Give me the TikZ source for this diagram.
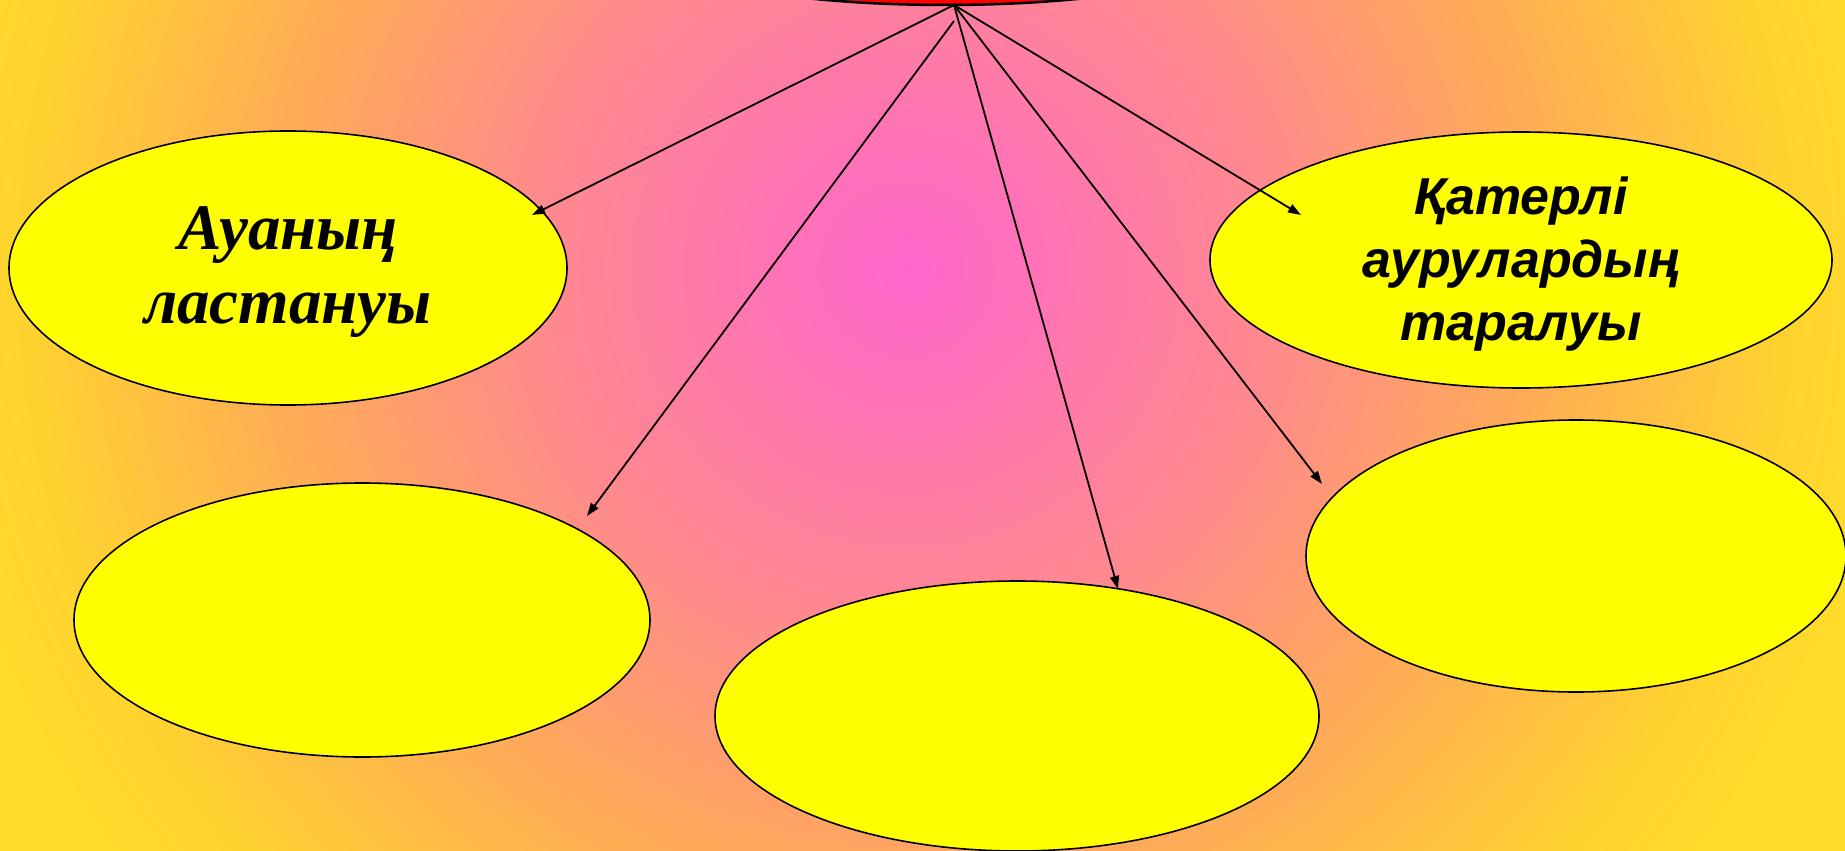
\documentclass[tikz,border=0pt]{standalone}
\usepackage{fontspec}
\newfontfamily\serifbi{Liberation Serif}[BoldItalicFont={* Bold Italic}]
\newfontfamily\sansbi{Liberation Sans}[BoldItalicFont={* Bold Italic}]
\usetikzlibrary{shapes.geometric,arrows.meta}
\definecolor{bgA}{HTML}{FF66CC}
\definecolor{bgB}{HTML}{FF8A8C}
\definecolor{bgC}{HTML}{FFAA58}
\definecolor{bgD}{HTML}{FFD42E}
\definecolor{bgE}{HTML}{FFDC2A}
\definecolor{oval}{HTML}{FFFF00}
\definecolor{topred}{HTML}{FF0000}
\pgfdeclareradialshading{bgshade}{\pgfpoint{0bp}{0bp}}{%
  color(0bp)=(bgA); color(7.8bp)=(bgB); color(12.9bp)=(bgC);
  color(18.6bp)=(bgD); color(20.8bp)=(bgE); color(50bp)=(bgE)}
\tikzset{
  oval/.style={ellipse, draw=black, line width=1.6pt, fill=oval, inner sep=0pt},
  link/.style={line width=1.8pt, -{Triangle[length=13pt,width=9pt]}},
  sertext/.style={align=center, font=\serifbi\bfseries\itshape\fontsize{65}{74}\selectfont},
  santext/.style={align=center, font=\sansbi\bfseries\itshape\fontsize{52}{63}\selectfont}
}
\begin{document}
\begin{tikzpicture}[x=1pt,y=-1pt]
\useasboundingbox (0,0) rectangle (1845,851);
\begin{scope}
  \clip (0,0) rectangle (1845,851);
  \fill[bgE] (0,0) rectangle (1845,851);
  \shade[shading=bgshade] (906,270) circle[radius=1200];
  \node[ellipse, draw=black, line width=2.5pt, fill=topred, minimum width=600pt, minimum height=120pt] (top) at (946,-55) {};
  \node[oval, minimum width=558pt, minimum height=274pt] (e1) at (288,268) {};
  \node[oval, minimum width=622pt, minimum height=256pt] (e2) at (1521,260) {};
  \node[oval, minimum width=576pt, minimum height=274pt] (e3) at (362,620) {};
  \node[oval, minimum width=604pt, minimum height=270pt] (e4) at (1017,716) {};
  \node[oval, minimum width=540pt, minimum height=272pt] (e5) at (1576,556) {};
  \node[sertext] (t1) at (288,272) {Ауаның\\ластануы};
  \node[santext] (t2) at (1521,264) {Қатерлі\\аурулардың\\таралуы};
  \coordinate (src) at (954,5);
  \coordinate (src2) at (954,21);
  \coordinate (p1) at (532,215);
  \coordinate (p2) at (1301,215);
  \coordinate (p3) at (587,516);
  \coordinate (p4) at (1118,589);
  \coordinate (p5) at (1322,484);
  \draw[link] (src) -- (p1);
  \draw[link] (src2) -- (p3);
  \draw[link] (src) -- (p4);
  \draw[link] (src) -- (p5);
  \draw[link] (src) -- (p2);
\end{scope}
\end{tikzpicture}
\end{document}
